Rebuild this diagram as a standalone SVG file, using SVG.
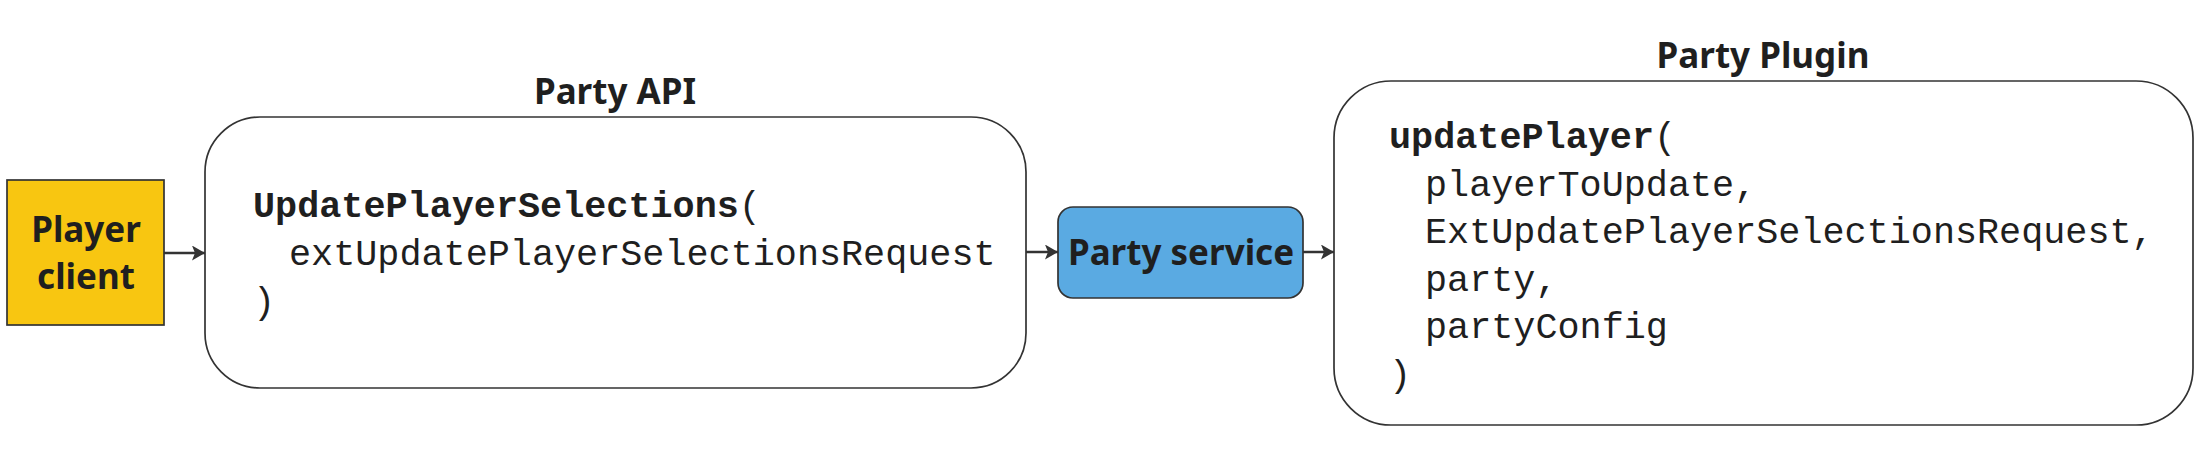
<svg xmlns="http://www.w3.org/2000/svg" width="2196" height="455" viewBox="0 0 2196 455">
<style>
.box{stroke:#333333;stroke-width:1.7}
.lbl{font-family:"Noto Sans","Open Sans",sans-serif;font-weight:700;font-size:35px;fill:#1f1f1f;text-anchor:middle}
.code{font-family:"Liberation Mono","DejaVu Sans Mono",monospace;font-size:36.8px;fill:#1f1f1f}
.b{font-weight:700}
.conn{stroke:#333333;stroke-width:2.5;fill:none;marker-end:url(#arr)}
</style>
<defs>
<marker id="arr" viewBox="0 0 13 15" refX="13" refY="7.5" markerWidth="13" markerHeight="15" markerUnits="userSpaceOnUse" orient="auto">
<path d="M0,0 L13,7.5 L0,15 L3,7.5 Z" fill="#333333"/>
</marker>
</defs>
<rect width="2196" height="455" fill="#ffffff"/>
<g id="connectors">
<line class="conn" x1="164" y1="253" x2="205" y2="253"/>
<line class="conn" x1="1026" y1="252" x2="1058" y2="252"/>
<line class="conn" x1="1303" y1="252" x2="1334" y2="252"/>
</g>
<g id="player-client">
<rect class="box" x="7" y="180" width="157" height="145" fill="#F8C611"/>
<text class="lbl" x="86" y="242">Player</text>
<text class="lbl" x="86" y="289">client</text>
</g>
<g id="party-api">
<text class="lbl" x="615" y="104">Party API</text>
<rect class="box" x="205" y="117" width="821" height="271" rx="55" ry="55" fill="#ffffff"/>
<text class="code" x="253" y="217"><tspan class="b">UpdatePlayerSelections</tspan>(</text>
<text class="code" x="289" y="265">extUpdatePlayerSelectionsRequest</text>
<text class="code" x="253" y="313">)</text>
</g>
<g id="party-service">
<rect class="box" x="1058" y="207" width="245" height="91" rx="15" ry="15" fill="#5AAAE2"/>
<text class="lbl" x="1181" y="265">Party service</text>
</g>
<g id="party-plugin">
<text class="lbl" x="1763" y="68">Party Plugin</text>
<rect class="box" x="1334" y="81" width="859" height="344" rx="57" ry="57" fill="#ffffff"/>
<text class="code" x="1389" y="148"><tspan class="b">updatePlayer</tspan>(</text>
<text class="code" x="1425" y="196">playerToUpdate,</text>
<text class="code" x="1425" y="243">ExtUpdatePlayerSelectionsRequest,</text>
<text class="code" x="1425" y="291">party,</text>
<text class="code" x="1425" y="338">partyConfig</text>
<text class="code" x="1389" y="386">)</text>
</g>
</svg>
